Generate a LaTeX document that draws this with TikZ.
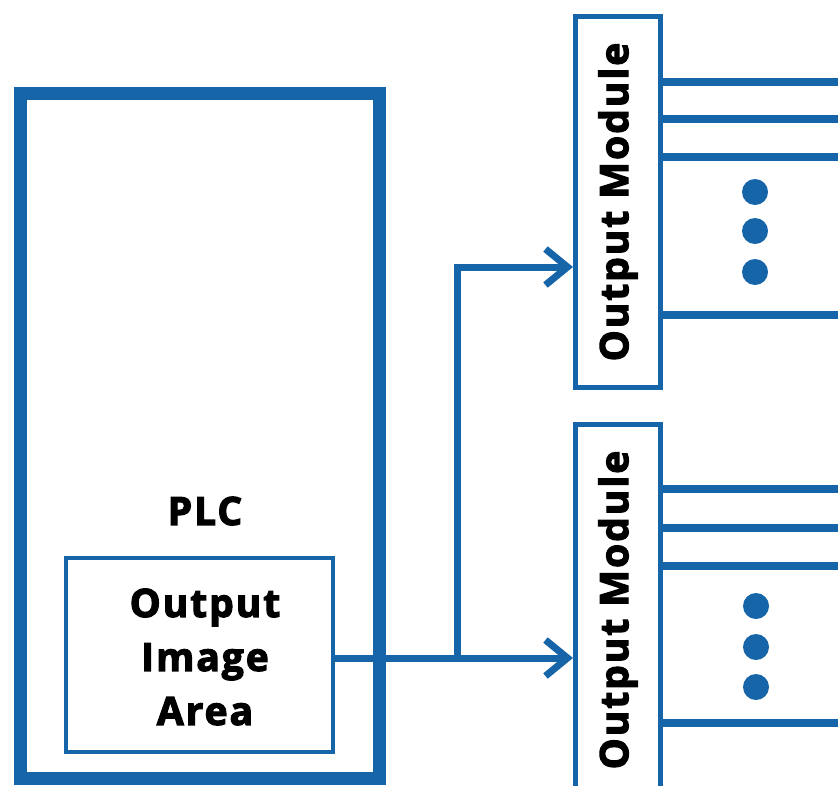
\documentclass[tikz,border=0pt]{standalone}
\usepackage{fontspec}
\setmainfont{Open Sans}[BoldFeatures={FakeBold=3, LetterSpace=5}]
\usetikzlibrary{arrows.meta}
\definecolor{plcblue}{RGB}{21,101,168}
\tikzset{
  bigtext/.style={font=\fontsize{39}{54}\selectfont\bfseries, text=black},
  plcbox/.style={draw=plcblue, line width=13pt, minimum width=358.5pt, minimum height=685pt, inner sep=0pt},
  areabox/.style={draw=plcblue, line width=4pt, minimum width=267pt, minimum height=194pt, inner sep=0pt},
  modbox/.style={draw=plcblue, line width=5pt, minimum width=85pt, minimum height=371pt, inner sep=0pt, bigtext},
  conn/.style={draw=plcblue, line width=7pt},
  arr/.style={conn, -{Straight Barb[length=22pt, width=36pt, line width=7pt]}},
  outline/.style={draw=plcblue, line width=8pt},
  dot/.style={circle, fill=plcblue, minimum size=26pt, inner sep=0pt}
}
\begin{document}
\begin{tikzpicture}[x=1pt, y=-1pt]
  \useasboundingbox (0,0) rectangle (838,785);

  % PLC housing and its output image area
  \node[plcbox] (plc) at (199.75,436) {};
  \node[bigtext] (plclabel) at (205,511) {PLC};
  \node[areabox] (area) at (199.5,655) {};
  \node[bigtext, align=center] (arealabel) at (205,657) {Output\\Image\\Area};

  % output modules
  \node[modbox] (mod1) at (618,202) {\rotatebox{90}{Output Module}};
  \node[modbox] (mod2) at (618,610) {\rotatebox{90}{Output Module}};

  % bus from the image area to both modules
  \coordinate (split) at (457,658);
  \coordinate (rise) at (457,267);
  \draw[arr] (area.east |- split) -- (mod2.west |- split);
  \draw[arr] (split) -- (rise) -- (mod1.west |- rise);

  % output lines of the first module
  \foreach \y/\n in {82/a, 119/b, 157/c, 315/d} {
    \coordinate (e1\n) at (838,\y);
    \draw[outline] (mod1.east |- e1\n) -- (e1\n);
  }
  \node[dot] (d1a) at (755,192) {};
  \node[dot] (d1b) at (755,231) {};
  \node[dot] (d1c) at (755,272) {};

  % output lines of the second module
  \foreach \y/\n in {489/a, 528/b, 566/c, 723/d} {
    \coordinate (e2\n) at (838,\y);
    \draw[outline] (mod2.east |- e2\n) -- (e2\n);
  }
  \node[dot] (d2a) at (756,606) {};
  \node[dot] (d2b) at (756,647) {};
  \node[dot] (d2c) at (756,687) {};
\end{tikzpicture}
\end{document}
